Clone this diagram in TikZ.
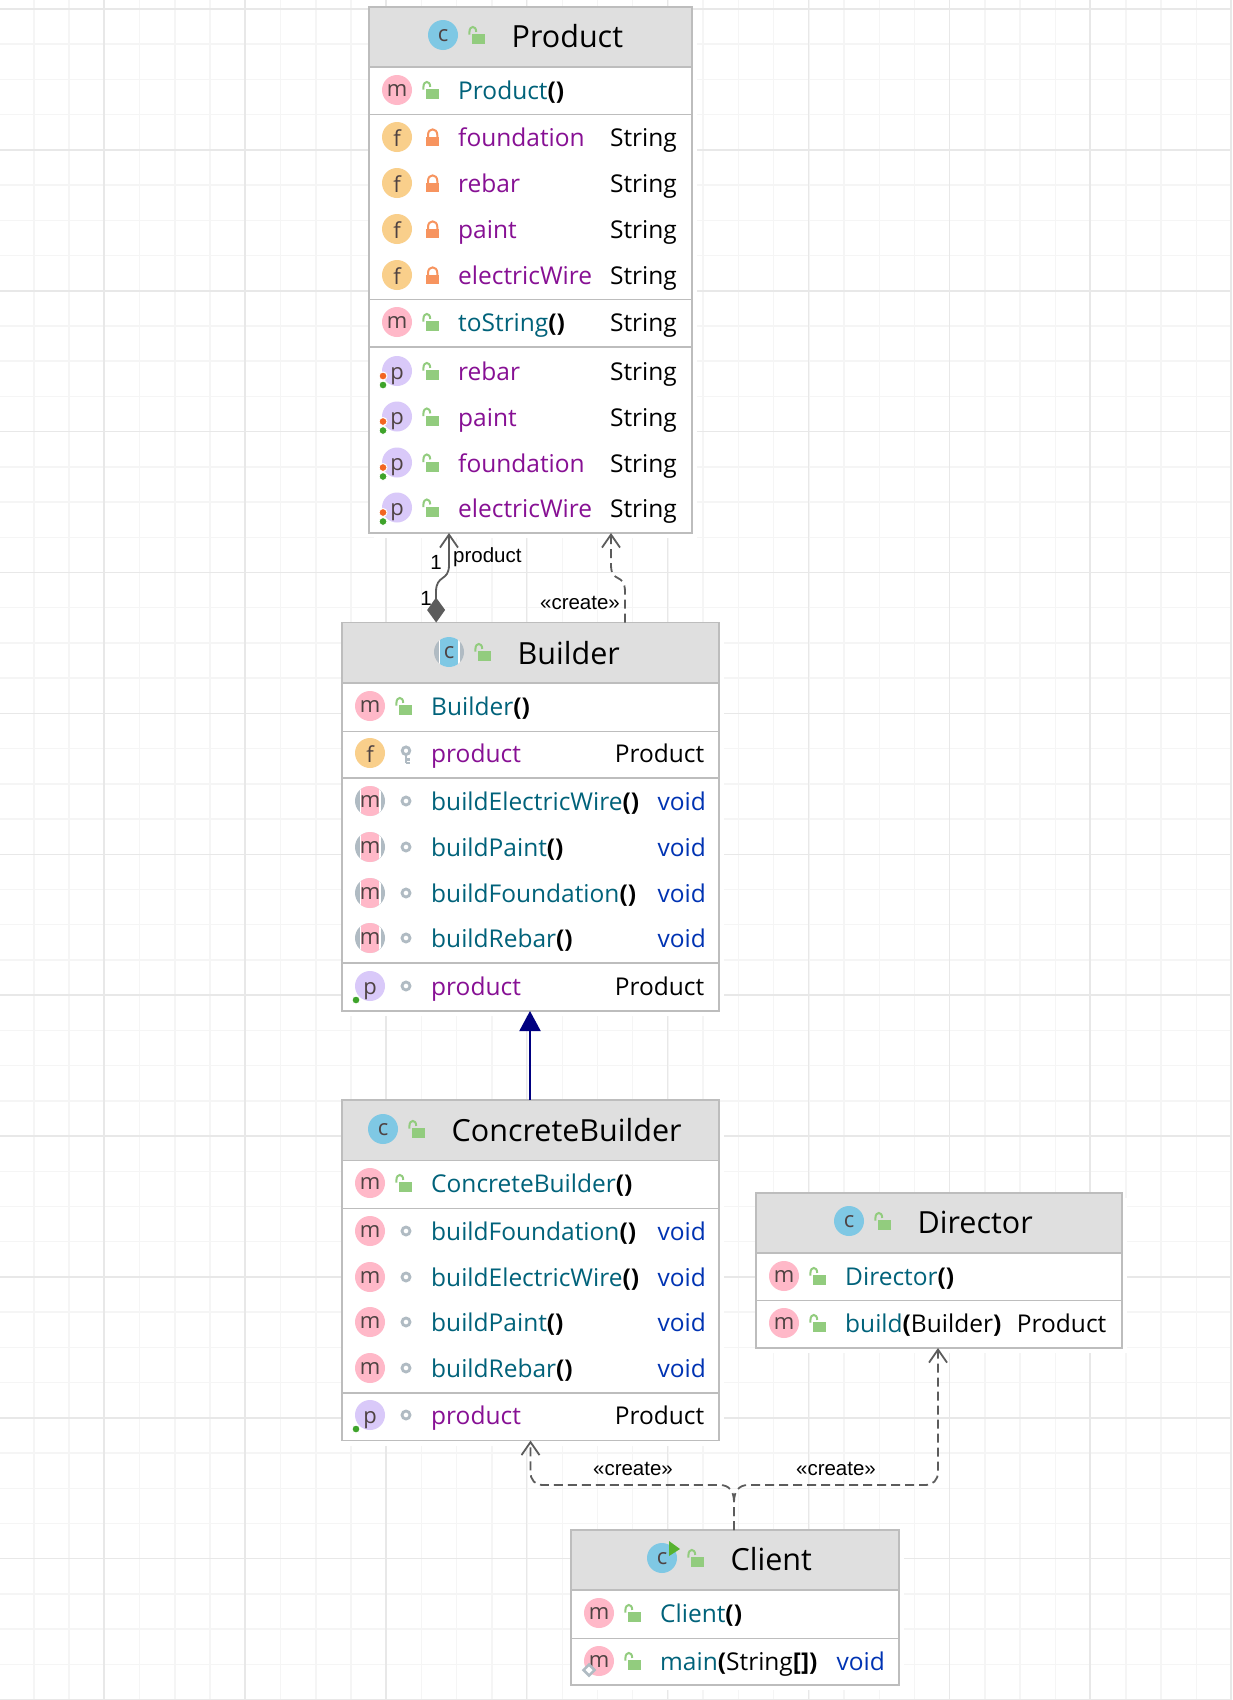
\documentclass[tikz,border=0pt]{standalone}
\usepackage{fontspec}
\usepackage{xcolor}
\setmainfont{Open Sans}
\newfontfamily\edgefont{Liberation Sans}
\usetikzlibrary{arrows.meta,shadows}

\definecolor{gridlight}{HTML}{F5F5F5}
\definecolor{gridheavy}{HTML}{E8E8E8}
\definecolor{boxline}{HTML}{BDBDBD}
\definecolor{headfill}{HTML}{DFDFDF}
\definecolor{methodtext}{HTML}{00627A}
\definecolor{fieldtext}{HTML}{871094}
\definecolor{voidtext}{HTML}{0033B3}
\definecolor{icontext}{HTML}{4E4242}
\definecolor{iconpink}{HTML}{FFB8C8}
\definecolor{iconorange}{HTML}{F9CF8B}
\definecolor{iconpurple}{HTML}{D9C9F9}
\definecolor{iconblue}{HTML}{7FC8E4}
\definecolor{icongray}{HTML}{B0BBC3}
\definecolor{lockgreen}{HTML}{92CC7E}
\definecolor{lockorange}{HTML}{F7945F}
\definecolor{dotorange}{HTML}{F26522}
\definecolor{dotgreen}{HTML}{3EA32A}
\definecolor{runpointer}{HTML}{57B22F}
\definecolor{edgegray}{HTML}{5C5C5C}
\definecolor{inherit}{HTML}{000080}

\tikzset{
  umlframe/.style={draw=boxline, fill=white, line width=1.5pt, inner sep=0pt, outer sep=0pt, anchor=north west,
    drop shadow={shadow xshift=5pt, shadow yshift=-5pt, fill=white, opacity=1}},
  umlhead/.style={draw=boxline, fill=headfill, line width=1.5pt, inner sep=0pt, outer sep=0pt, anchor=north west},
  rowsep/.style={draw=boxline, line width=1pt},
  rowsepwide/.style={draw=boxline, line width=1.5pt},
  icon/.style={circle, minimum size=30pt, inner sep=0pt, text=icontext, text height=13pt, text depth=0pt,
    font=\fontsize{22}{24}\selectfont},
  iconM/.style={icon, fill=iconpink},
  iconF/.style={icon, fill=iconorange, text height=18pt},
  iconP/.style={icon, fill=iconpurple, text height=16pt},
  iconC/.style={icon, fill=iconblue, text height=12pt},
  iconAbs/.style={icon, fill=icongray, path picture={
    \fill[white] ([xshift=-10.5pt]path picture bounding box.south) rectangle ([xshift=10.5pt]path picture bounding box.north);
    \fill[#1] ([xshift=-9pt]path picture bounding box.south) rectangle ([xshift=9pt]path picture bounding box.north);}},
  titletext/.style={anchor=base west, inner sep=0pt, font=\fontsize{30.5}{34}\selectfont},
  nametext/.style={anchor=base west, inner sep=0pt, font=\fontsize{24.5}{28}\selectfont},
  methodname/.style={nametext, text=methodtext},
  fieldname/.style={nametext, text=fieldtext},
  typetext/.style={anchor=base east, inner sep=0pt, font=\fontsize{24.5}{28}\selectfont},
  voidtype/.style={typetext, text=voidtext},
  edgelabel/.style={inner sep=0pt, font=\edgefont\fontsize{20.5}{24}\selectfont},
  assocline/.style={draw=edgegray, line width=1.8pt},
  createline/.style={draw=edgegray, line width=1.8pt, dash pattern=on 9pt off 5pt},
  pics/pubLock/.style={code={
    \fill[lockgreen] (-5,-1) rectangle (8.3,9);
    \draw[lockgreen, line width=2pt] (-7.6,-0.3) -- (-7.6,-2.8) .. controls (-7.6,-9.8) and (-0.8,-9.8) .. (-0.8,-3.1);}},
  pics/privLock/.style={code={
    \fill[lockorange] (-5,0) rectangle (8.3,9);
    \draw[lockorange, line width=2pt] (-3,0) -- (-3,-2) .. controls (-3,-9.5) and (6.3,-9.5) .. (6.3,-2) -- (6.3,0);}},
  pics/pkgRing/.style={code={
    \draw[icongray, line width=2.8pt] (2,0) circle (4pt);}},
  pics/protKey/.style={code={
    \draw[icongray, line width=2.8pt] (2,-2.3) circle (3.8pt);
    \draw[icongray, line width=2.8pt] (2,1.5) -- (2,10) (2,6.5) -- (6,6.5) (2,10) -- (6,10);}},
  pics/dotsBoth/.style={code={
    \draw[white, fill=dotorange, line width=1pt] (-14,5) circle (4pt);
    \draw[white, fill=dotgreen, line width=1pt] (-14,14) circle (4pt);}},
  pics/dotGreen/.style={code={
    \draw[white, fill=dotgreen, line width=1pt] (-14,14) circle (4pt);}},
}

% id, left, top, width, height, head height
\newcommand{\umlbox}[6]{
  \node[umlframe, minimum width=#4pt, minimum height=#5pt] (#1) at (#2,#3) {};
  \node[umlhead, minimum width=#4pt, minimum height=#6pt] (#1Head) at (#1.north west) {};
}
% id, icon x, icon y, icon style, title
\newcommand{\umltitle}[5]{
  \node[#4] (#1Icon) at (#2,#3) {c};
  \pic at ([xshift=34pt]#1Icon.center) {pubLock};
  \node[titletext] (#1Title) at ([xshift=68.5pt,yshift=-12.5pt]#1Icon.center) {#5};
}
% id, icon x, icon y, icon style, letter, access pic, name style, name
\newcommand{\umlrow}[8]{
  \node[#4] (#1Icon) at (#2,#3) {#5};
  \pic at ([xshift=34pt]#1Icon.center) {#6};
  \node[#7] (#1Name) at ([xshift=61pt,yshift=-9.5pt]#1Icon.center) {#8};
}
% id, offset from the icon, style, text
\newcommand{\umltype}[4]{
  \node[#3] (#1Type) at ([xshift=#2pt,yshift=-9.5pt]#1Icon.center) {#4};
}
\newcommand{\bk}[1]{{\bfseries\color{black}#1}}

\begin{document}
\begin{tikzpicture}[x=1pt, y=-1pt]
  \useasboundingbox (0,0) rectangle (1232,1700);
  \fill[white] (0,0) rectangle (1232,1700);
  % background grid
  \draw[gridlight, line width=1.5pt, x=1pt, y=1pt, shift={(34pt,-9pt)}, step=35.22pt] (-34,-1700) grid (1198,9);
  \draw[gridheavy, line width=1.5pt, x=1pt, y=1pt, shift={(104pt,-9pt)}, step=140.88pt] (-104,-1700) grid (1128,9);

  % Product
  \umlbox{product}{369}{7}{323}{526}{60}
  \umltitle{productClass}{443}{35}{iconC}{Product}
  \umlrow{prodCtor}{397}{90}{iconM}{m}{pubLock}{methodname}{Product\bk{()}}
  \draw[rowsep] (369,114) -- (692,114);
  \umlrow{prodFoundationF}{397}{137}{iconF}{f}{privLock}{fieldname}{foundation}
  \umlrow{prodRebarF}{397}{183}{iconF}{f}{privLock}{fieldname}{rebar}
  \umlrow{prodPaintF}{397}{229}{iconF}{f}{privLock}{fieldname}{paint}
  \umlrow{prodWireF}{397}{275}{iconF}{f}{privLock}{fieldname}{electricWire}
  \draw[rowsep] (369,299) -- (692,299);
  \umlrow{prodToString}{397}{322}{iconM}{m}{pubLock}{methodname}{toString\bk{()}}
  \draw[rowsepwide] (369,347) -- (692,347);
  \umlrow{prodRebarP}{397}{371}{iconP}{p}{pubLock}{fieldname}{rebar}
  \umlrow{prodPaintP}{397}{416.5}{iconP}{p}{pubLock}{fieldname}{paint}
  \umlrow{prodFoundationP}{397}{462.5}{iconP}{p}{pubLock}{fieldname}{foundation}
  \umlrow{prodWireP}{397}{507.5}{iconP}{p}{pubLock}{fieldname}{electricWire}
  \pic at (397,371) {dotsBoth};
  \pic at (397,416.5) {dotsBoth};
  \pic at (397,462.5) {dotsBoth};
  \pic at (397,507.5) {dotsBoth};
  \umltype{prodFoundationF}{280}{typetext}{String}
  \umltype{prodRebarF}{280}{typetext}{String}
  \umltype{prodPaintF}{280}{typetext}{String}
  \umltype{prodWireF}{280}{typetext}{String}
  \umltype{prodToString}{280}{typetext}{String}
  \umltype{prodRebarP}{280}{typetext}{String}
  \umltype{prodPaintP}{280}{typetext}{String}
  \umltype{prodFoundationP}{280}{typetext}{String}
  \umltype{prodWireP}{280}{typetext}{String}

  % Builder
  \umlbox{builder}{342}{622.5}{377}{388.5}{60.5}
  \umltitle{builderClass}{449}{652}{iconAbs=iconblue}{Builder}
  \umlrow{buildCtor}{370}{706}{iconM}{m}{pubLock}{methodname}{Builder\bk{()}}
  \draw[rowsep] (342,731) -- (719,731);
  \umlrow{buildField}{370}{753}{iconF}{f}{protKey}{fieldname}{product}
  \draw[rowsepwide] (342,778) -- (719,778);
  \umlrow{buildWire}{370}{801}{iconAbs=iconpink}{m}{pkgRing}{methodname}{buildElectricWire\bk{()}}
  \umlrow{buildPaint}{370}{847}{iconAbs=iconpink}{m}{pkgRing}{methodname}{buildPaint\bk{()}}
  \umlrow{buildFoundation}{370}{893}{iconAbs=iconpink}{m}{pkgRing}{methodname}{buildFoundation\bk{()}}
  \umlrow{buildRebar}{370}{938}{iconAbs=iconpink}{m}{pkgRing}{methodname}{buildRebar\bk{()}}
  \draw[rowsepwide] (342,963) -- (719,963);
  \umlrow{buildProp}{370}{986}{iconP}{p}{pkgRing}{fieldname}{product}
  \pic at (370,986) {dotGreen};
  \umltype{buildField}{334.5}{typetext}{Product}
  \umltype{buildWire}{336}{voidtype}{void}
  \umltype{buildPaint}{336}{voidtype}{void}
  \umltype{buildFoundation}{336}{voidtype}{void}
  \umltype{buildRebar}{336}{voidtype}{void}
  \umltype{buildProp}{334.5}{typetext}{Product}

  % ConcreteBuilder
  \umlbox{concrete}{342}{1100}{377}{340.5}{60.5}
  \umltitle{concreteClass}{383}{1129}{iconC}{ConcreteBuilder}
  \umlrow{concCtor}{370}{1183}{iconM}{m}{pubLock}{methodname}{ConcreteBuilder\bk{()}}
  \draw[rowsep] (342,1208) -- (719,1208);
  \umlrow{concFoundation}{370}{1231}{iconM}{m}{pkgRing}{methodname}{buildFoundation\bk{()}}
  \umlrow{concWire}{370}{1277}{iconM}{m}{pkgRing}{methodname}{buildElectricWire\bk{()}}
  \umlrow{concPaint}{370}{1322}{iconM}{m}{pkgRing}{methodname}{buildPaint\bk{()}}
  \umlrow{concRebar}{370}{1368}{iconM}{m}{pkgRing}{methodname}{buildRebar\bk{()}}
  \draw[rowsepwide] (342,1393) -- (719,1393);
  \umlrow{concProp}{370}{1415}{iconP}{p}{pkgRing}{fieldname}{product}
  \pic at (370,1415) {dotGreen};
  \umltype{concFoundation}{336}{voidtype}{void}
  \umltype{concWire}{336}{voidtype}{void}
  \umltype{concPaint}{336}{voidtype}{void}
  \umltype{concRebar}{336}{voidtype}{void}
  \umltype{concProp}{334.5}{typetext}{Product}

  % Director
  \umlbox{director}{756}{1193}{366}{155}{60}
  \umltitle{directorClass}{849}{1221}{iconC}{Director}
  \umlrow{dirCtor}{784}{1276}{iconM}{m}{pubLock}{methodname}{Director\bk{()}}
  \draw[rowsep] (756,1300) -- (1122,1300);
  \umlrow{dirBuild}{784}{1323}{iconM}{m}{pubLock}{methodname}{build\bk{(}{\color{black}Builder}\bk{)}}
  \umltype{dirBuild}{322.5}{typetext}{Product}

  % Client
  \umlbox{client}{571}{1530}{328}{155}{60}
  \umltitle{clientClass}{662}{1558}{iconC}{Client}
  \fill[runpointer] (669,1541) -- (680,1549) -- (669,1556) -- cycle;
  \umlrow{clientCtor}{599}{1613}{iconM}{m}{pubLock}{methodname}{Client\bk{()}}
  \draw[rowsep] (571,1638) -- (899,1638);
  \umlrow{clientMain}{599}{1661}{iconM}{m}{pubLock}{methodname}{main\bk{(}{\color{black}String}\bk{[])}}
  \draw[icongray, line width=2.5pt, fill=white] (589,1664.5) -- (594.5,1670) -- (589,1675.5) -- (583.5,1670) -- cycle;
  \umltype{clientMain}{286}{voidtype}{void}

  % connectors
  \draw[assocline, {Diamond[length=25pt,width=18pt]}-{Straight Barb[length=13pt,width=18pt]}]
    ([xshift=-94.3pt]builder.north) -- (436,592) .. controls (436,574) and (449,582) .. (449,565) -- ([xshift=-81.5pt]product.south);
  \draw[createline, -{Straight Barb[length=13pt,width=18pt]}]
    ([xshift=94.5pt]builder.north) -- (625,592) .. controls (625,572) and (611,584) .. (611,565) -- ([xshift=80.5pt]product.south);
  \draw[draw=inherit, line width=2pt, -{Triangle[length=20pt,width=21pt]}] ([xshift=-0.5pt]concrete.north) -- ([xshift=-0.5pt]builder.south);
  \draw[createline, -{Straight Barb[length=13pt,width=18pt]}]
    ([xshift=-1pt]client.north) -- (734,1502) .. controls (734,1490) and (728,1485) .. (720,1485) -- (543,1485)
    .. controls (535,1485) and (530.5,1480) .. (530.5,1472) -- (concrete.south);
  \draw[createline, -{Straight Barb[length=13pt,width=18pt]}]
    ([xshift=-1pt]client.north) -- (734,1502) .. controls (734,1490) and (740,1485) .. (748,1485) -- (925,1485)
    .. controls (933,1485) and (938,1480) .. (938,1472) -- ([xshift=-1pt]director.south);

  % connector labels
  \node[edgelabel] (assocOne) at (436,562) {1};
  \node[edgelabel] (assocTwo) at (426,598) {1};
  \node[edgelabel, anchor=west] (assocName) at (453,557) {product};
  \node[edgelabel] (createProduct) at (580,603) {«create»};
  \node[edgelabel] (createConcrete) at (633,1469) {«create»};
  \node[edgelabel] (createDirector) at (836,1469) {«create»};
\end{tikzpicture}
\end{document}
